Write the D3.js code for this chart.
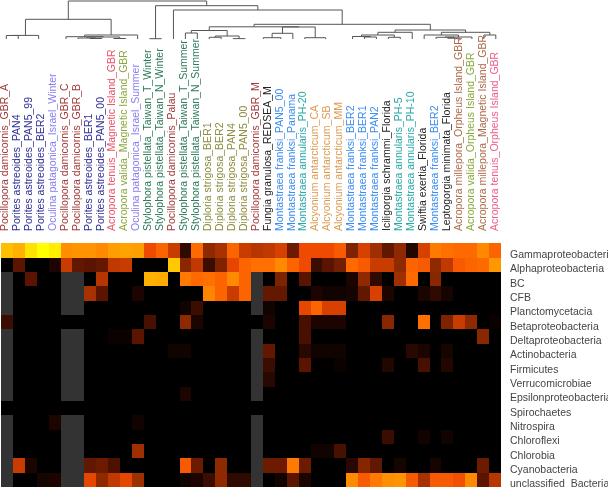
<!DOCTYPE html>
<html><head><meta charset="utf-8">
<script src="https://cdn.jsdelivr.net/npm/d3@7/dist/d3.min.js"></script>
<style>html,body{margin:0;padding:0;background:#fff}svg{display:block;filter:blur(0.35px)}text{font-family:"Liberation Sans",Arial,sans-serif}</style>
</head><body><svg id="c" width="608" height="488"></svg>
<script>
const samples = ["Pocillopora damicornis_GBR_A","Porites astreoides_PAN4","Porites astreoides_PAN5_99","Porites astreoides_BER2","Oculina patagonica_Israel_Winter","Pocillopora damicornis_GBR_C","Pocillopora damicornis_GBR_B","Porites astreoides_BER1","Porites astreoides_PAN5_00","Acropora tenuis_Magnetic Island_GBR","Acropora valida_Magnetic Island_GBR","Oculina patagonica_Israel_Summer","Stylophora pistellata_Taiwan_T_Winter","Stylophora pistellata_Taiwan_N_Winter","Pocillopora damicornis_Palau","Stylophora pistellata_Taiwan_T_Summer","Stylophora pistellata_Taiwan_N_Summer","Diploria strigosa_BER1","Diploria strigosa_BER2","Diploria strigosa_PAN4","Diploria strigosa_PAN5_00","Pocillopora damicornis_GBR_M","Fungia granulosa_REDSEA_M","Montastraea franksi_PAN5_00","Montastraea franksi_Panama","Montastraea annularis_PH-20","Alcyonium antarcticum_CA","Alcyonium antarcticum_SB","Alcyonium antarcticum_MM","Montastraea franksi_BER2","Montastraea franksi_BER1","Montastraea franksi_PAN2","Iciligorgia schrammi_Florida","Montastraea annularis_PH-5","Montastraea annularis_PH-10","Swiftia exertia_Florida","Montastraea franksi_BER2","Leptogorgia minimata_Florida","Acropora millepora_Orpheus Island_GBR","Acropora valida_Orpheus Island_GBR","Acropora millepora_Magnetic Island_GBR","Acropora tenuis_Orpheus Island_GBR"];
const sampleColors = ["#a33a3a","#2f2f96","#2f2f96","#2f2f96","#8a7cf0","#a33a3a","#a33a3a","#2f2f96","#2f2f96","#ee5068","#8aa83c","#8a7cf0","#2c7a58","#2c7a58","#a33a3a","#2c7a58","#2c7a58","#8c8c3c","#8c8c3c","#8c8c3c","#8c8c3c","#a33a3a","#222222","#3a8cf0","#3a8cf0","#28a8a8","#dc9a50","#dc9a50","#dc9a50","#3a8cf0","#3a8cf0","#3a8cf0","#222222","#28a8a8","#28a8a8","#222222","#3a8cf0","#222222","#ac6a48","#8aa83c","#ac6a48","#ee5c88"];
const taxa = ["Gammaproteobacteria","Alphaproteobacteria","BC","CFB","Planctomycetacia","Betaproteobacteria","Deltaproteobacteria","Actinobacteria","Firmicutes","Verrucomicrobiae","Epsilonproteobacteria","Spirochaetes","Nitrospira","Chloroflexi","Chlorobia","Cyanobacteria","unclassified  Bacteria"];
const N = null;
const gamma = [.88,.85,.95,1,.97,.72,.74,.74,.70,.78,.8,.78,.5,.58,.42,.08,.6,.3,.35,.58,.42,.38,.4,.45,.2,.5,.5,.5,.55,.25,.45,.33,.17,.3,.06,.45,.65,.62,.6,.6,.7,.58];
const alpha = [0,.15,0,0,.05,.42,.17,.15,.18,.4,.42,0,0,0,.9,.28,.4,.1,.25,.48,.58,.62,.62,.7,.58,.5,.1,.15,.22,.6,.55,.42,.42,.3,.58,.55,.3,.4,.55,.58,.6,.75];
const bc = [N,0,.15,0,0,N,N,0,.38,0,0,0,.85,.83,0,.65,.6,.62,.58,.7,.58,N,0,.25,0,.15,0,0,0,.05,.3,.08,0,.33,.6,0,.28,0,0,0,0,0];
const cfb = [N,0,0,0,0,N,N,.35,.15,0,0,.05,0,0,0,0,0,.68,.58,.42,.58,N,.18,.18,0,0,.05,.03,.03,.04,.17,.45,.05,0,0,.05,.08,.04,0,0,0,0];
const plancto = [N,0,0,0,0,N,N,0,0,0,0,0,0,0,0,.03,.1,0,0,0,0,N,.03,0,0,.48,.58,.45,.45,0,0,0,0,0,0,0,0,0,0,0,0,0];
const beta = [.1,0,0,0,0,0,0,0,0,0,0,0,.12,0,0,.3,.05,0,0,0,0,0,.05,0,0,.12,.05,.05,.05,0,0,0,.28,0,0,.62,0,.25,.42,.3,0,.02];
const delta = [N,0,0,0,0,N,N,0,0,.02,.02,.15,0,0,0,0,0,0,0,0,0,N,0,0,0,.12,0,0,0,0,0,0,0,0,0,0,0,0,0,0,.28,0];
const actino = [N,0,0,0,0,N,N,0,0,0,0,0,0,0,.03,.03,0,0,0,0,0,N,.17,0,0,.07,.03,.03,.03,0,0,0,0,0,.07,.05,0,.04,0,0,0,0];
const firmi = [N,0,0,0,0,N,N,0,0,0,0,0,0,0,0,0,0,0,0,0,0,N,.1,0,0,.15,0,0,.02,0,0,0,.06,0,0,.12,0,.06,0,0,0,0];
const verruco = [N,0,0,0,0,N,N,0,0,0,0,0,0,0,0,0,0,0,0,0,0,N,.07,0,0,0,0,0,0,0,0,0,0,0,0,0,0,0,0,0,0,0];
const epsilon = [N,0,0,0,0,N,N,0,0,0,0,0,0,0,0,.05,0,0,0,0,0,N,0,0,0,0,0,0,0,0,0,0,0,0,0,0,0,0,0,0,0,0];
const spiro = [0,0,0,0,0,0,0,0,0,0,0,0,0,0,0,0,0,0,0,0,0,0,0,0,0,0,0,0,0,0,0,0,0,0,0,0,0,0,0,0,0,0];
const nitro = [N,0,0,0,.05,N,N,0,0,0,0,.03,0,0,0,0,0,0,0,0,0,N,0,0,0,0,0,0,0,0,0,0,0,0,0,0,0,0,0,0,0,0];
const chlorofl = [N,0,0,0,0,N,N,0,0,0,0,0,0,0,0,0,0,0,0,0,0,N,0,0,0,0,0,0,0,0,0,0,.1,0,0,.03,0,.03,0,0,0,0];
const chlorob = [N,0,0,0,0,N,N,0,0,0,0,.33,0,0,0,0,0,0,0,0,0,N,0,0,0,0,.03,.03,.12,0,0,0,0,0,0,0,0,0,0,0,0,0];
const cyano = [N,.42,.05,0,0,N,N,.17,.2,.13,0,0,0,0,0,.55,.2,0,.3,0,0,N,.2,.2,.65,.2,0,0,0,.07,.27,.17,0,.04,0,0,.04,0,0,0,.2,0];
const unclass = [N,0,0,.04,.05,N,N,.48,.3,.4,.48,.33,0,0,0,.03,.05,.1,.3,.08,.08,N,0,.03,.15,.05,0,0,0,.7,.55,.65,.72,.74,.55,.35,.55,.55,.52,.7,.15,.38];
const matrix = [gamma,alpha,bc,cfb,plancto,beta,delta,actino,firmi,verruco,epsilon,spiro,nitro,chlorofl,chlorob,cyano,unclass];
// dendrogram merges: [height, left, right]; a number is a leaf position in column units
const tree = [38,
  [19.7, [3.6,[3.5,0,1],2.71], [4,[2.3,5,[2,[1,6,[.5,7,8]],[.5,9,10]]],11]],
  [33.3, [.3,12,13],
    [29,14,
      [14.7,
        [12.2,
          [8.5,[6,15,16],[3,[1.7,17,18],[.4,19,20]]],
          [12,[5.7,[1.3,21.53,23],24],[1.3,25,26.75]]],
        [9,
          [6.7,[4,[2.5,29,[2,30,31]],[1.7,32,33]],34],
          [6.7,[4,35,[2,[1.7,36,[.8,37,38]],39]],[4,40,41]]]]]]];

const colorStops = [0,.05,.15,.3,.42,.5,.6,.7,.85,.9,1];
const colorValues = ["#000000","#1c0500","#5a1400","#8f2a00","#c83c00","#ee4a00","#ff6a00","#ff8a00","#ffb000","#ffc800","#ffff00"];
const color = d3.scaleLinear().domain(colorStops).range(colorValues).clamp(true);
const missing = "#333333";

const svg = d3.select("#c");
const idx = d3.range(samples.length);
const x = d3.scaleBand().domain(idx).range([1,501]);
const y = d3.scaleBand().domain(d3.range(taxa.length)).range([243.3,487]);
const xLeaf = d3.scaleLinear().domain([0,41]).range([6.3,495.8]);
const xLabel = d3.scaleLinear().domain([0,41]).range([8,497.5]);
const yTree = d3.scaleLinear().domain([0,38]).range([39,1]);

// heatmap
svg.append("g").attr("shape-rendering","crispEdges").selectAll("g").data(matrix).join("g")
  .attr("transform",(d,i)=>`translate(0,${y(i)})`)
  .selectAll("rect").data(d=>d).join("rect")
  .attr("x",(d,j)=>x(j)).attr("width",x.bandwidth()+.4).attr("height",y.bandwidth()+.4)
  .attr("fill",d=>d===null?missing:color(d));

// row labels
svg.append("g").selectAll("text").data(taxa).join("text")
  .attr("x",510).attr("y",(d,i)=>y(i)+y.bandwidth()/2+7.4)
  .attr("font-size",10.5).attr("fill","#444").style("white-space","pre").text(d=>d);

// sample labels
svg.append("g").selectAll("text").data(samples).join("text")
  .attr("transform",(d,i)=>`translate(${xLabel(i)},231) rotate(-90)`)
  .attr("font-size",10.5).attr("fill",(d,i)=>sampleColors[i]).text(d=>d);

// dendrogram
const root = d3.hierarchy(tree,d=>Array.isArray(d)?d.slice(1):null);
root.eachAfter(n=>{
  if(n.children){n.h=n.data[0];n.px=d3.mean(n.children,c=>c.px);}
  else{n.h=0;n.px=xLeaf(n.data);}
});
const line = d3.path();
root.each(n=>{
  if(!n.children) return;
  const ty=yTree(n.h);
  line.moveTo(n.children[0].px,ty);line.lineTo(n.children[1].px,ty);
  n.children.forEach(c=>{line.moveTo(c.px,ty);line.lineTo(c.px,yTree(c.h));});
});
svg.append("path").attr("d",line.toString()).attr("fill","none").attr("stroke","#555").attr("stroke-width",1);
</script></body></html>
